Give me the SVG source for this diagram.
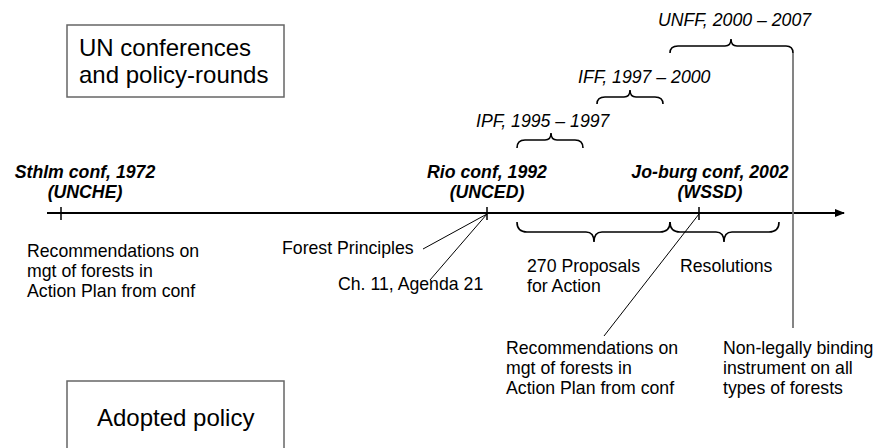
<svg xmlns="http://www.w3.org/2000/svg" width="878" height="448" viewBox="0 0 878 448">
<defs>
<marker id="arr" markerWidth="10" markerHeight="8" refX="9" refY="4" orient="auto" markerUnits="userSpaceOnUse">
<path d="M0,0 L10,4 L0,8 Z" fill="#000"/>
</marker>
<style>
.t{font-family:"Liberation Sans",Arial,sans-serif;font-size:17.7px;fill:#000}
.bi{font-weight:bold;font-style:italic;text-anchor:middle}
.it{font-style:italic}
.big{font-family:"Liberation Sans",Arial,sans-serif;font-size:24px;fill:#000}
.box{fill:#fff;stroke:#666;stroke-width:1.5}
.br{fill:none;stroke:#000;stroke-width:1.6}
.ln{fill:none;stroke:#000;stroke-width:1}
</style>
</defs>
<rect width="878" height="448" fill="#fff"/>

<g id="box-un">
<rect class="box" x="67" y="25" width="217" height="72"/>
<text class="big" x="79" y="56">UN conferences</text>
<text class="big" x="79" y="83">and policy-rounds</text>
</g>
<g id="box-adopted">
<rect class="box" x="67" y="381" width="217" height="90"/>
<text class="big" x="97" y="426">Adopted policy</text>
</g>

<g id="connectors">
<line x1="47" y1="213" x2="844" y2="213" stroke="#000" stroke-width="2" marker-end="url(#arr)"/>
<line x1="61" y1="207" x2="61" y2="220" stroke="#000" stroke-width="1.5"/>
<line x1="487" y1="207" x2="487" y2="220" stroke="#000" stroke-width="1.5"/>
<line x1="699" y1="207" x2="699" y2="220" stroke="#000" stroke-width="1.5"/>
<line class="ln" x1="487" y1="214" x2="423" y2="249"/>
<line class="ln" x1="487" y1="214" x2="430" y2="280"/>
<line class="ln" x1="699" y1="214" x2="604" y2="336"/>
<path class="br" d="M517,222 Q517,232 527,232 L586,232 Q594,232 594,242 Q594,232 602,232 L660,232 Q670,232 670,222"/>
<path class="br" d="M670,222 Q670,232 680,232 L716,232 Q724,232 724,242 Q724,232 732,232 L769,232 Q779,232 779,222"/>
<path class="br" d="M517,148 Q517,140 525,140 L545,140 Q551,140 551,133 Q551,140 557,140 L575,140 Q583,140 583,148"/>
<path class="br" d="M597,104 Q597,97 605,97 L624,97 Q630,97 630,90 Q630,97 636,97 L655,97 Q663,97 663,104"/>
<path class="br" d="M670,53 Q670,46 678,46 L725,46 Q731,46 731,39 Q731,46 737,46 L786,46 Q793,46 793,53"/>
<line x1="793" y1="53" x2="793" y2="328" stroke="#777" stroke-width="1.8"/>
</g>

<g id="sthlm">
<text class="t bi" x="85" y="177.5">Sthlm conf, 1972</text>
<text class="t bi" x="85" y="198">(UNCHE)</text>
</g>
<g id="rio">
<text class="t bi" x="487" y="177.5">Rio conf, 1992</text>
<text class="t bi" x="487" y="198">(UNCED)</text>
</g>
<g id="joburg">
<text class="t bi" x="710" y="177.5">Jo-burg conf, 2002</text>
<text class="t bi" x="710" y="198">(WSSD)</text>
</g>
<g id="ipf"><text class="t it" x="476" y="127">IPF, 1995 – 1997</text></g>
<g id="iff"><text class="t it" x="578" y="83">IFF, 1997 – 2000</text></g>
<g id="unff"><text class="t it" x="658" y="25.5">UNFF, 2000 – 2007</text></g>

<g id="rec1">
<text class="t" x="27" y="257">Recommendations on</text>
<text class="t" x="27" y="277">mgt of forests in</text>
<text class="t" x="27" y="297">Action Plan from conf</text>
</g>
<g id="forest-principles"><text class="t" x="282" y="254">Forest Principles</text></g>
<g id="ch11"><text class="t" x="338" y="290">Ch. 11, Agenda 21</text></g>
<g id="proposals">
<text class="t" x="527" y="272">270 Proposals</text>
<text class="t" x="527" y="292">for Action</text>
</g>
<g id="resolutions"><text class="t" x="680" y="272">Resolutions</text></g>
<g id="rec2">
<text class="t" x="506" y="354">Recommendations on</text>
<text class="t" x="506" y="374">mgt of forests in</text>
<text class="t" x="506" y="394">Action Plan from conf</text>
</g>
<g id="nlbi">
<text class="t" x="723" y="354">Non-legally binding</text>
<text class="t" x="723" y="374">instrument on all</text>
<text class="t" x="723" y="394">types of forests</text>
</g>
</svg>
